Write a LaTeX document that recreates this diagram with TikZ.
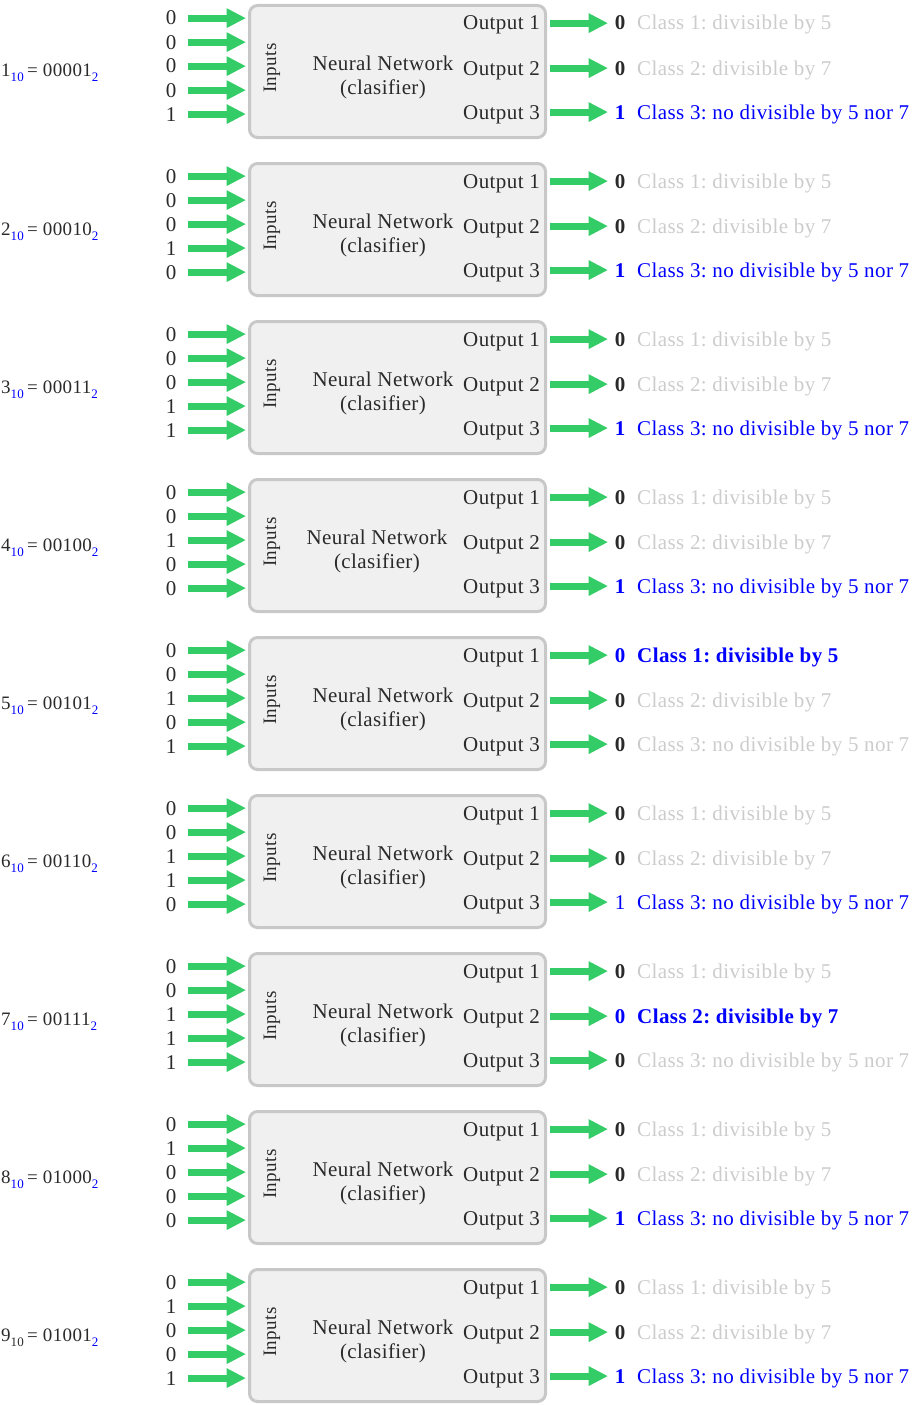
\documentclass[tikz,border=0pt]{standalone}
\usepackage{fontspec}
\setmainfont{Liberation Serif}[LetterSpace=2]
\usepackage{xcolor}
\usepackage{tikz}
\usetikzlibrary{arrows.meta}
\definecolor{nnfill}{HTML}{F0F0F0}
\definecolor{nnborder}{HTML}{C8C8C8}
\definecolor{txtdark}{HTML}{2A2A2A}
\definecolor{txtgray}{HTML}{CCCCCC}
\definecolor{arrowgreen}{HTML}{33CC66}
\newcommand{\lowsub}[2]{\raisebox{-5pt}{\fontsize{13}{13}\selectfont\textcolor{#1}{#2}}}
\frenchspacing

\begin{document}
\begin{tikzpicture}[x=1pt, y=-1pt,
    every node/.style={inner sep=0pt, text=txtdark, font=\fontsize{21}{24}\selectfont},
    nnbox/.style={draw=nnborder, fill=nnfill, line width=3pt, rounded corners=8pt,
                  minimum width=296pt, minimum height=132pt},
    greenarrow/.style={draw=arrowgreen, line width=7pt,
                       -{Triangle[length=19pt, width=20pt, line width=0pt]}}]
  \useasboundingbox (0,0) rectangle (911,1405);
  \foreach \n/\ba/\bb/\bc/\bd/\be/\hl/\nnx/\dw/\sc in {
      1/0/0/0/0/1/3/383/\bfseries/blue,
      2/0/0/0/1/0/3/383/\bfseries/blue,
      3/0/0/0/1/1/3/383/\bfseries/blue,
      4/0/0/1/0/0/3/377/\bfseries/blue,
      5/0/0/1/0/1/1/383/\bfseries/blue,
      6/0/0/1/1/0/3/383/\mdseries/blue,
      7/0/0/1/1/1/2/383/\bfseries/blue,
      8/0/1/0/0/0/3/383/\bfseries/blue,
      9/0/1/0/0/1/3/383/\bfseries/txtdark}{
    \pgfmathtruncatemacro{\rowtop}{2+158*(\n-1)}
    % the network box
    \node[nnbox] (box\n) at (397.5, \rowtop+69.5) {};
    \node[rotate=90, font=\fontsize{19}{22}\selectfont] (inp\n) at (272, \rowtop+66) {Inputs};
    \node[align=center] (nn\n) at (\nnx, \rowtop+75) {Neural Network\\(clasifier)};
    % decimal = binary
    \node[anchor=base west, font=\fontsize{19}{22}\selectfont] (num\n) at (1, \rowtop+75)
      {\n\lowsub{\sc}{10}\,= \ba\bb\bc\bd\be\lowsub{blue}{2}};
    % input bits
    \foreach \b [count=\i from 0] in {\ba,\bb,\bc,\bd,\be}{
      \node[anchor=base] (in\n-\i) at (171, \rowtop+23+24*\i) {\b};
      \draw[greenarrow, shorten <=11.5pt, shorten >=2.5pt] (in\n-\i.east) -- (in\n-\i.east -| box\n.west);
    }
    % outputs and classes
    \foreach \k/\oy/\cls in {1/21/{Class 1: divisible by 5},
                             2/66/{Class 2: divisible by 7},
                             3/110/{Class 3: no divisible by 5 nor 7}}{
      \ifnum\k=\hl
        \ifnum\hl=3
          \def\clsdig{\textcolor{blue}{\dw 1}}\def\clstxt{\textcolor{blue}{\cls}}
        \else
          \def\clsdig{\textcolor{blue}{\bfseries 0}}\def\clstxt{\textcolor{blue}{\bfseries\cls}}
        \fi
      \else
        \def\clsdig{\bfseries 0}\def\clstxt{\textcolor{txtgray}{\cls}}
      \fi
      \node[anchor=base east] (lbl\n-\k) at (540, \rowtop+\oy+7) {Output \k};
      \node[anchor=base] (res\n-\k) at (620, \rowtop+\oy+7) {\clsdig};
      \node[anchor=base west] (cls\n-\k) at (637, \rowtop+\oy+7) {\clstxt};
      \draw[greenarrow, shorten <=3pt, shorten >=7pt] (box\n.east |- res\n-\k) -- (res\n-\k.west);
    }
  }
\end{tikzpicture}
\end{document}
